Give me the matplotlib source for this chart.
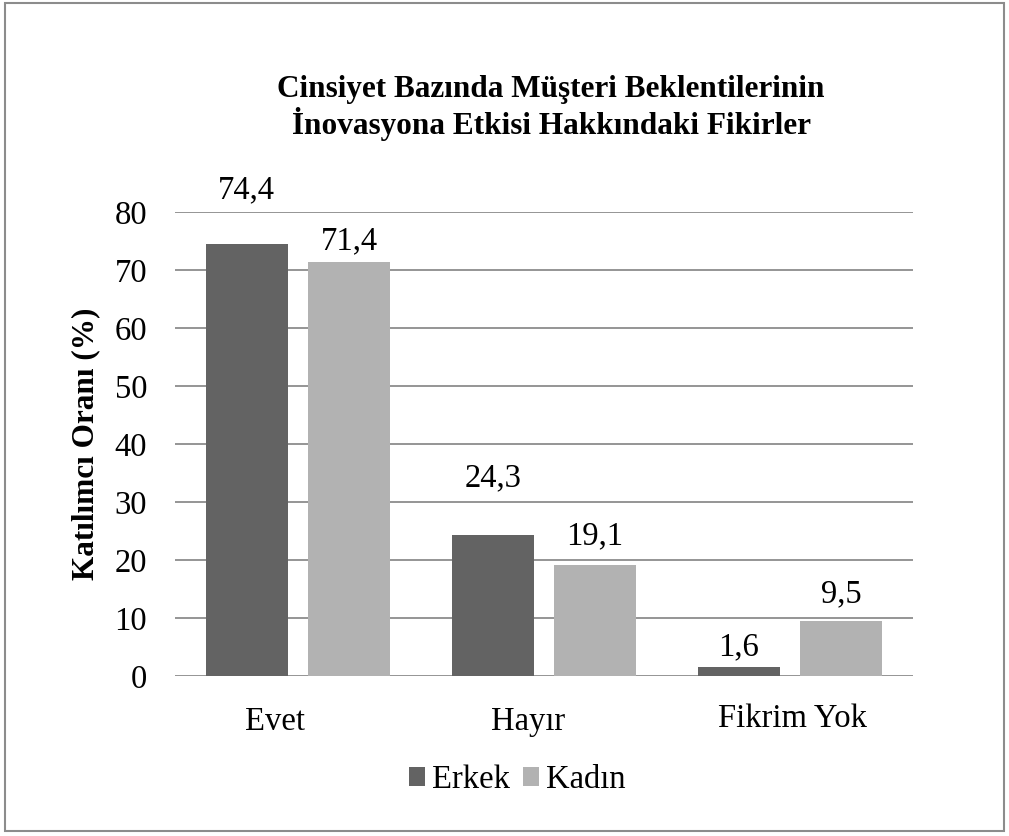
import matplotlib
matplotlib.use("Agg")
import matplotlib.pyplot as plt
import matplotlib.transforms as mtransforms
import numpy as np
from matplotlib.patches import Rectangle

# ---- data ----
categories = ["Evet", "Hayır", "Fikrim Yok"]
series_names = ["Erkek", "Kadın"]
erkek = [74.4, 24.3, 1.6]
kadin = [71.4, 19.1, 9.5]
yticks = [0, 10, 20, 30, 40, 50, 60, 70, 80]
title = "Cinsiyet Bazında Müşteri Beklentilerinin\nİnovasyona Etkisi Hakkındaki Fikirler"
ylabel = "Katılımcı Oranı (%)"

# ---- style ----
colors = ["#636363", "#b2b2b2"]
label_offsets_px = [[46, 49, 11], [13, 21, 19]]  # baseline above bar top
tick_label_shift_px = [(-23, 0), (-16, 0), (2, 3)]
FS = 23.5
plt.rcParams["font.family"] = ["Liberation Serif", "DejaVu Serif"]

fig = plt.figure(figsize=(10.09, 8.36), dpi=100)
W, H = 1009, 836
ax = fig.add_axes([175 / W, 160 / H, 738 / W, 464 / H])

x = np.arange(len(categories))
bw = 0.333
offs = [-0.208, 0.208]
for i, (vals, name) in enumerate(zip([erkek, kadin], series_names)):
    bars = ax.bar(x + offs[i], vals, width=bw, color=colors[i], label=name, zorder=3)
    for j, (b, v) in enumerate(zip(bars, vals)):
        ax.annotate(f"{v:.1f}".replace(".", ","),
                    xy=(b.get_x() + b.get_width() / 2, v),
                    xytext=(0, label_offsets_px[i][j]), textcoords="offset pixels",
                    ha="center", va="baseline", fontsize=FS, color="#000000")

ax.set_xlim(-0.5, len(categories) - 0.5)
ax.set_ylim(0, 80)
ax.set_yticks(yticks)
ax.set_yticklabels([str(t) for t in yticks], fontsize=FS)
ax.set_xticks(x)
ax.set_xticklabels(categories, fontsize=FS)
ax.tick_params(axis="both", length=0)
ax.tick_params(axis="y", pad=20)
ax.tick_params(axis="x", pad=22)
for lbl, (dx, dy) in zip(ax.get_xticklabels(), tick_label_shift_px):
    lbl.set_transform(lbl.get_transform() +
                      mtransforms.ScaledTranslation(dx / 100, dy / 100, fig.dpi_scale_trans))
ax.grid(axis="y", color="#8c8c8c", linewidth=1.3, zorder=0)
for s in ax.spines.values():
    s.set_visible(False)

ax.set_ylabel(ylabel, fontsize=22.5, fontweight="bold")
ax.yaxis.label.set_va("center")
ax.yaxis.set_label_coords(-(175 - 86) / 738, 0.5)

fig.text(551 / W, 1 - 108 / H, title, ha="center", va="center",
         fontsize=22.5, fontweight="bold", linespacing=1.1)

fig.legend(loc="center", bbox_to_anchor=(517 / W, 1 - 780 / H), ncol=2,
           frameon=False, fontsize=FS, handlelength=0.5, handleheight=0.5,
           handletextpad=0.2, columnspacing=0.4)

fig.patches.append(Rectangle((5 / W, 5 / H), 999 / W, 828 / H, transform=fig.transFigure,
                             fill=False, edgecolor="#8c8c8c", linewidth=1.5))

fig.savefig("out.png", dpi=100)
